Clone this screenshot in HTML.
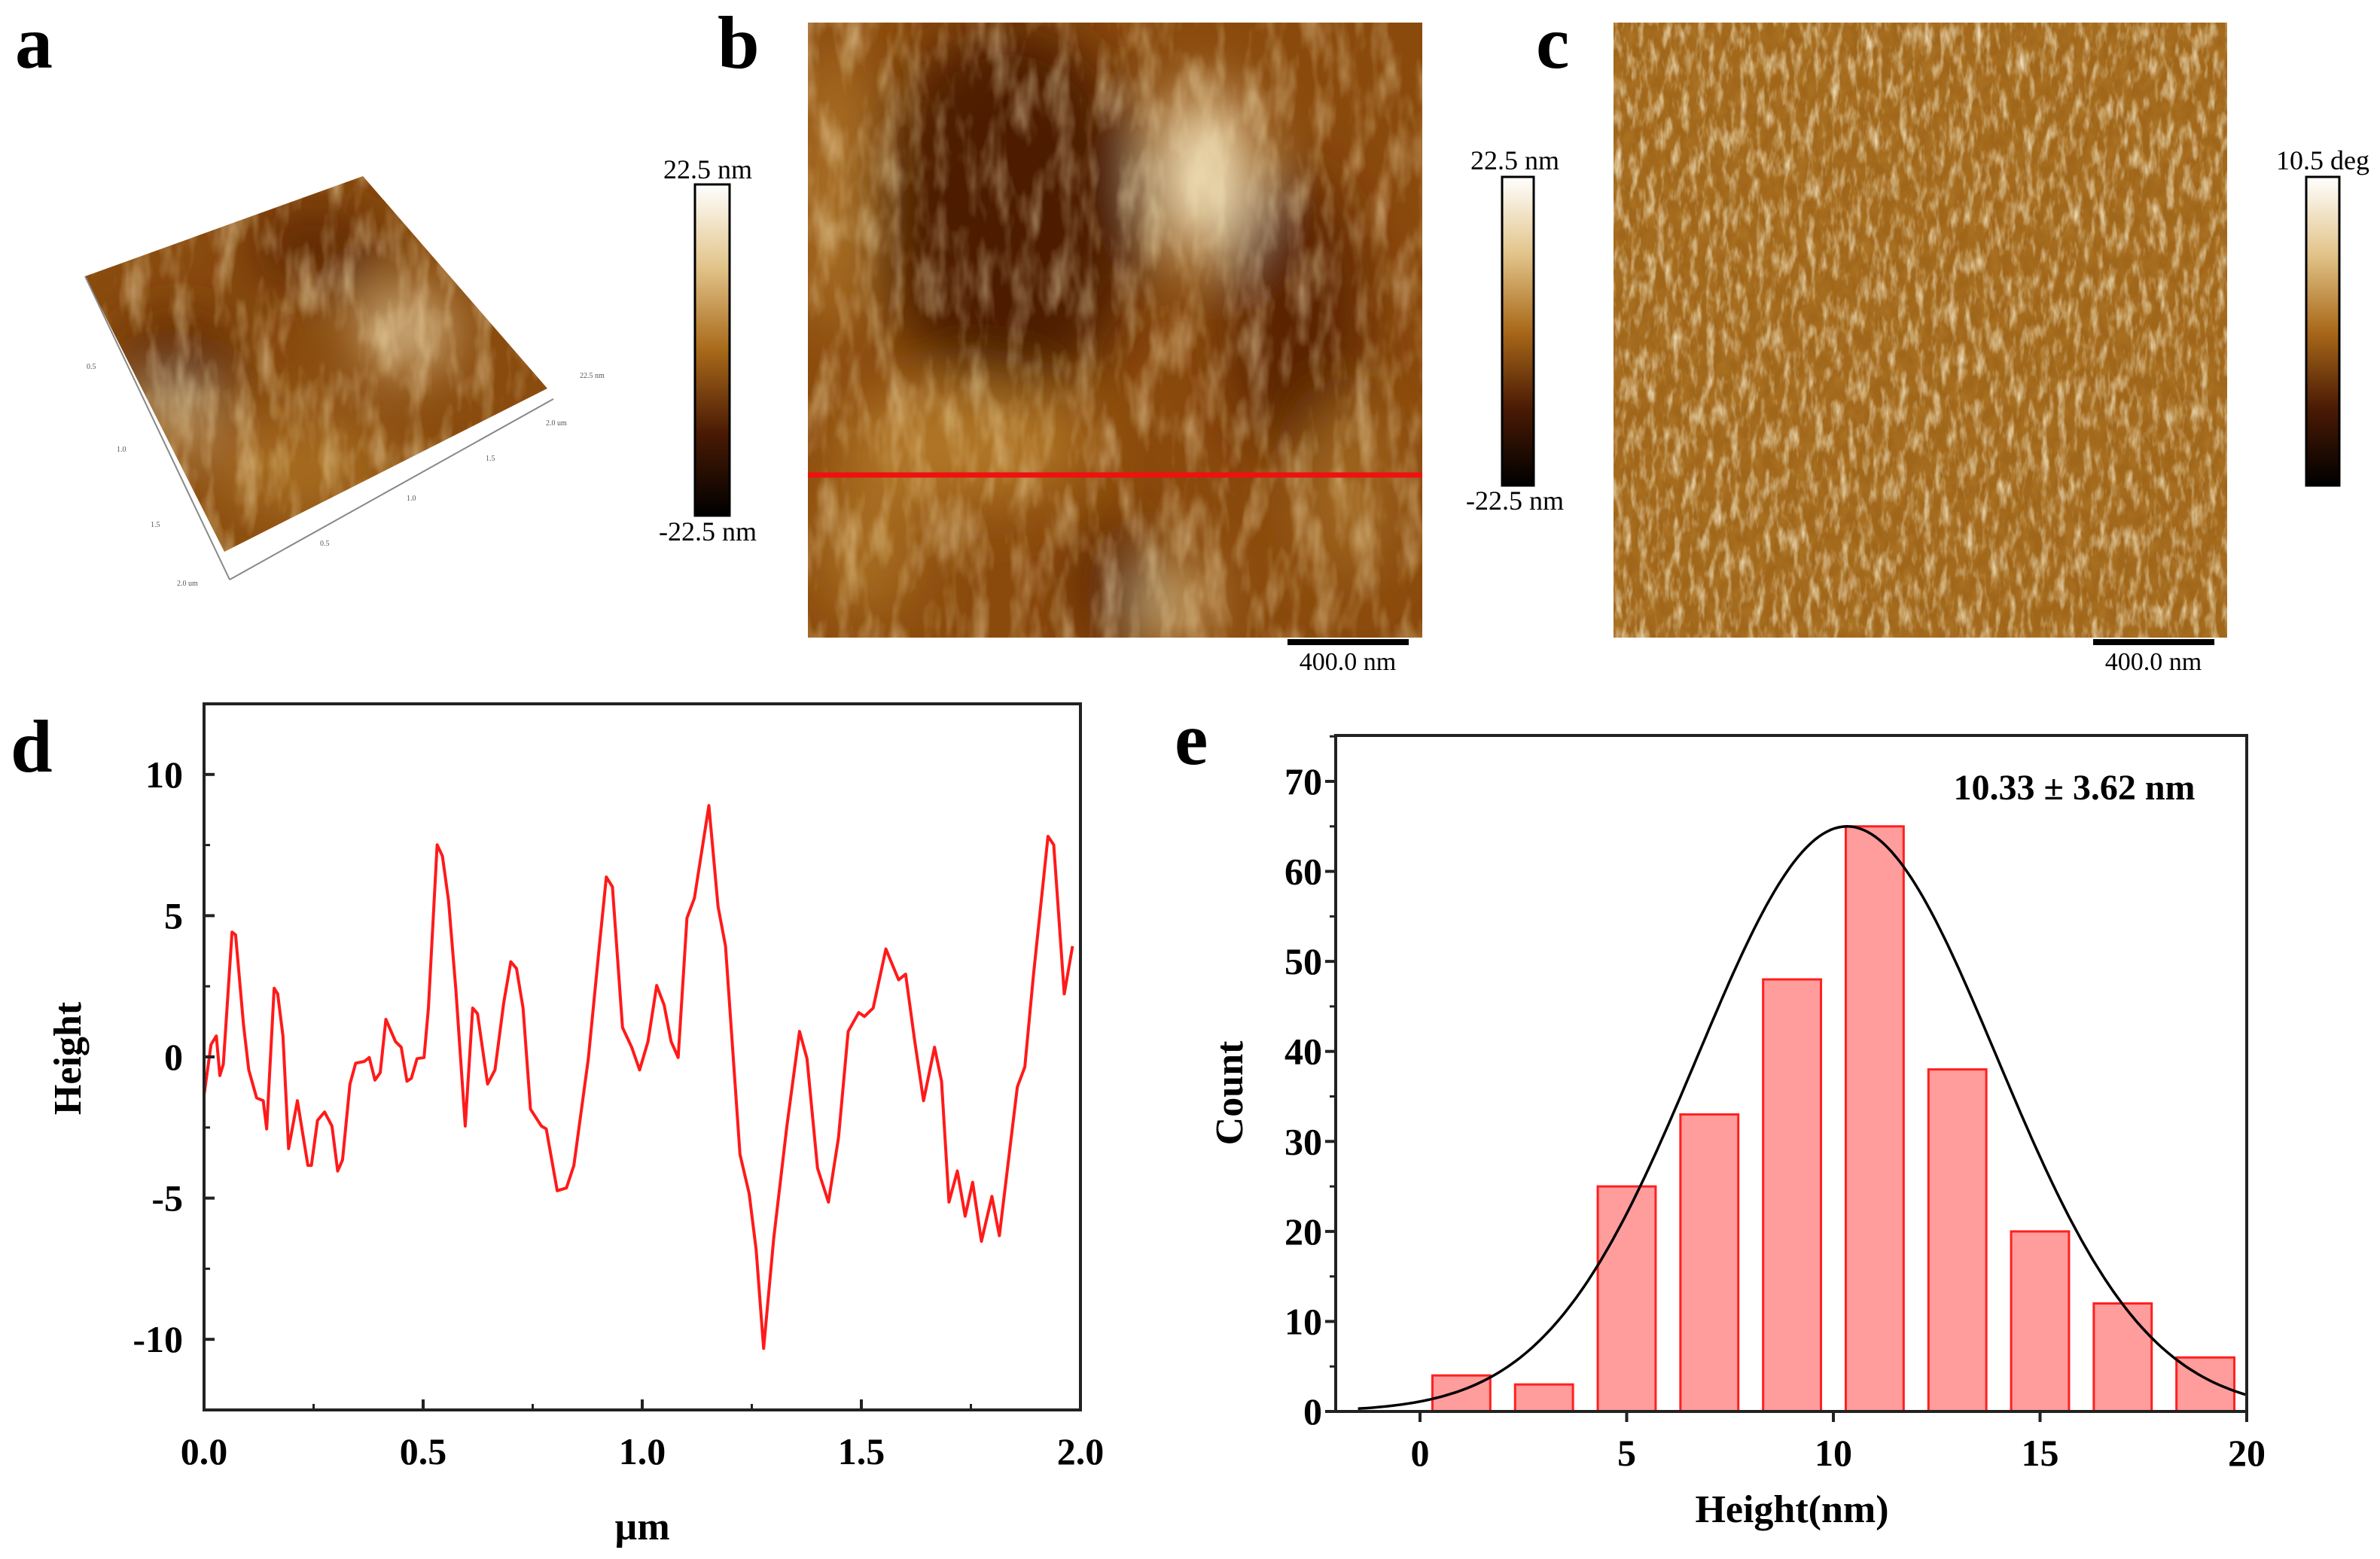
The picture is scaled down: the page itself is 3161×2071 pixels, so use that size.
<!DOCTYPE html>
<html><head><meta charset="utf-8"><style>
html,body{margin:0;padding:0;background:#fff;}
svg{display:block;font-family:"Liberation Serif",serif;}
</style></head><body>
<svg id="fig" width="3161" height="2071" viewBox="0 0 3161 2071" xmlns="http://www.w3.org/2000/svg">
<defs>
  <filter id="texB" x="0" y="0" width="100%" height="100%">
    <feTurbulence type="fractalNoise" baseFrequency="0.035 0.012" numOctaves="3" seed="4" result="n"/>
    <feColorMatrix in="n" type="matrix" values="0 0 0 0 1  0 0 0 0 0.88  0 0 0 0 0.55  1.4 0 0 0 -0.6" />
  </filter>
  <filter id="texC" x="0" y="0" width="100%" height="100%">
    <feTurbulence type="fractalNoise" baseFrequency="0.09 0.03" numOctaves="3" seed="9" result="n"/>
    <feColorMatrix in="n" type="matrix" values="0 0 0 0 1  0 0 0 0 0.93  0 0 0 0 0.7  1.8 0 0 0 -0.82" />
  </filter>
  <filter id="texCd" x="0" y="0" width="100%" height="100%">
    <feTurbulence type="fractalNoise" baseFrequency="0.07 0.05" numOctaves="2" seed="2" result="n"/>
    <feColorMatrix in="n" type="matrix" values="0 0 0 0 0.42  0 0 0 0 0.18  0 0 0 0 0.02  1.8 0 0 0 -0.6" />
  </filter>
  <filter id="blur40"><feGaussianBlur stdDeviation="40"/></filter>
  <linearGradient id="cbar" x1="0" y1="0" x2="0" y2="1">
    <stop offset="0" stop-color="#ffffff"/>
    <stop offset="0.25" stop-color="#e2c48a"/>
    <stop offset="0.5" stop-color="#a9691a"/>
    <stop offset="0.75" stop-color="#4a1a04"/>
    <stop offset="1" stop-color="#000000"/>
  </linearGradient>
  <clipPath id="clipB"><rect x="1073" y="30" width="816" height="817"/></clipPath>
  <clipPath id="clipC"><rect x="2143" y="30" width="815" height="817"/></clipPath>
  <clipPath id="clipA"><polygon points="113,367 482,234 727,516 298,733"/></clipPath>
  <clipPath id="clipD"><rect x="271" y="935" width="1164" height="938"/></clipPath>
</defs>

<text x="20" y="90" font-size="100" font-weight="bold">a</text>
<text x="953" y="90" font-size="100" font-weight="bold">b</text>
<text x="2040" y="90" font-size="100" font-weight="bold">c</text>
<text x="14" y="1025" font-size="100" font-weight="bold">d</text>
<text x="1560" y="1015" font-size="100" font-weight="bold">e</text>

<g>
  <g clip-path="url(#clipA)">
    <rect x="100" y="220" width="640" height="530" fill="#8a4c0e"/>
    <g filter="url(#blur40)">
      <ellipse cx="420" cy="330" rx="90" ry="50" fill="#5a2404"/>
      <ellipse cx="240" cy="480" rx="80" ry="60" fill="#5e2806"/>
      <ellipse cx="540" cy="440" rx="55" ry="42" fill="#f2e2b8"/>
      <ellipse cx="230" cy="555" rx="35" ry="32" fill="#efdcaa"/>
      <ellipse cx="400" cy="620" rx="120" ry="60" fill="#a86e20"/>
    </g>
    <rect x="100" y="220" width="640" height="530" filter="url(#texB)" opacity="0.75"/>
  </g>
  <g stroke="#888" stroke-width="2" fill="none">
    <line x1="113" y1="367" x2="305" y2="770"/>
    <line x1="305" y1="770" x2="735" y2="530"/>
  </g>
  <g font-size="10" fill="#555">
    <text x="115" y="490">0.5</text><text x="155" y="600">1.0</text><text x="200" y="700">1.5</text>
    <text x="235" y="778">2.0 um</text><text x="425" y="725">0.5</text><text x="540" y="665">1.0</text>
    <text x="645" y="612">1.5</text><text x="725" y="565">2.0 um</text><text x="770" y="502">22.5 nm</text>
  </g>
</g>

<g>
  <g clip-path="url(#clipB)">
    <rect x="1073" y="30" width="816" height="817" fill="#8a4a0c"/>
    <g filter="url(#blur40)">
      <ellipse cx="1340" cy="280" rx="180" ry="250" fill="#4e1c03"/>
      <ellipse cx="1720" cy="420" rx="90" ry="190" fill="#5a2204"/>
      <ellipse cx="1480" cy="780" rx="50" ry="90" fill="#5a2204"/>
      <ellipse cx="1600" cy="230" rx="60" ry="110" fill="#f4e4bc"/>
      <ellipse cx="1560" cy="800" rx="35" ry="45" fill="#ead49c"/>
      <ellipse cx="1110" cy="250" rx="35" ry="200" fill="#b88030"/>
      <ellipse cx="1280" cy="590" rx="170" ry="80" fill="#b07628"/>
      <ellipse cx="1150" cy="730" rx="70" ry="90" fill="#a86e22"/>
      <ellipse cx="1790" cy="650" rx="60" ry="120" fill="#a06820"/>
    </g>
    <rect x="1073" y="30" width="816" height="817" filter="url(#texB)" opacity="0.7"/>
  </g>
  <line x1="1073" y1="631" x2="1889" y2="631" stroke="#f01010" stroke-width="7"/>
  <rect x="1710" y="849" width="161" height="8" fill="#000"/>
  <text x="1790" y="890" font-size="34" text-anchor="middle">400.0 nm</text>
</g>
<g>
  <text x="940" y="237" font-size="36" text-anchor="middle">22.5 nm</text>
  <rect x="923" y="245" width="46" height="440" fill="url(#cbar)" stroke="#000" stroke-width="3"/>
  <text x="940" y="718" font-size="36" text-anchor="middle">-22.5 nm</text>
</g>

<g>
  <g clip-path="url(#clipC)">
    <rect x="2143" y="30" width="815" height="817" fill="#a0661a"/>
    <rect x="2143" y="30" width="815" height="817" filter="url(#texCd)" opacity="0.9"/>
    <rect x="2143" y="30" width="815" height="817" filter="url(#texC)" opacity="0.95"/>
  </g>
  <rect x="2780" y="849" width="161" height="8" fill="#000"/>
  <text x="2860" y="890" font-size="34" text-anchor="middle">400.0 nm</text>
</g>
<g>
  <text x="2012" y="225" font-size="36" text-anchor="middle">22.5 nm</text>
  <rect x="1995" y="235" width="42" height="410" fill="url(#cbar)" stroke="#000" stroke-width="3"/>
  <text x="2012" y="677" font-size="36" text-anchor="middle">-22.5 nm</text>
</g>
<g>
  <text x="3085" y="225" font-size="36" text-anchor="middle">10.5 deg</text>
  <rect x="3063" y="235" width="44" height="410" fill="url(#cbar)" stroke="#000" stroke-width="3"/>
</g>

<g id="chartD"></g>
<g id="chartE"></g>
</svg>

<script>
const profileX = [0,.016,.028,.036,.044,.064,.072,.09,.102,.12,.135,.143,.16,.168,.18,.193,.213,.237,.245,.259,.275,.292,.305,.316,.333,.346,.366,.377,.39,.402,.415,.437,.45,.463,.473,.486,.502,.512,.532,.544,.558,.575,.596,.613,.624,.647,.664,.684,.7,.713,.728,.745,.77,.781,.806,.827,.844,.877,.902,.918,.932,.955,.976,.994,1.013,1.033,1.05,1.066,1.082,1.102,1.119,1.152,1.173,1.19,1.223,1.244,1.26,1.277,1.3,1.33,1.359,1.376,1.4,1.425,1.448,1.47,1.494,1.507,1.527,1.556,1.585,1.601,1.622,1.642,1.667,1.683,1.7,1.719,1.737,1.754,1.774,1.798,1.815,1.856,1.873,1.893,1.926,1.939,1.963,1.982];
const profileY = [-1.35,.44,.74,-.66,-.26,4.42,4.32,1.14,-.46,-1.45,-1.55,-2.55,2.43,2.23,.74,-3.25,-1.55,-3.84,-3.84,-2.25,-1.95,-2.45,-4.04,-3.65,-.96,-.22,-.16,-.02,-.82,-.56,1.33,.54,.34,-.86,-.76,-.06,-.02,1.73,7.51,7.11,5.52,2.33,-2.45,1.73,1.53,-.96,-.46,1.93,3.37,3.13,1.73,-1.85,-2.45,-2.55,-4.74,-4.64,-3.84,-.06,3.92,6.37,6.02,1.04,.34,-.46,.54,2.53,1.83,.54,-.02,4.92,5.62,8.9,5.32,3.92,-3.45,-4.84,-6.83,-10.32,-6.43,-2.45,.9,-.06,-3.94,-5.14,-2.85,.9,1.57,1.43,1.73,3.82,2.73,2.93,.54,-1.55,.34,-.86,-5.14,-4.04,-5.64,-4.44,-6.53,-4.94,-6.33,-1.06,-.36,2.93,7.81,7.51,2.23,3.92];
const dXTicks = [0,0.5,1.0,1.5,2.0];
const dXTickLabels = ["0.0","0.5","1.0","1.5","2.0"];
const dYTicks = [-10,-5,0,5,10];
const dYTickLabels = ["-10","-5","0","5","10"];

const binCenters = [1,3,5,7,9,11,13,15,17,19];
const binCounts = [4,3,25,33,48,65,38,20,12,6];
const fitMean = 10.33;
const fitSigma = 3.62;
const fitPeak = 65;
const eXTicks = [0,5,10,15,20];
const eYTicks = [0,10,20,30,40,50,60,70];

const NS = "http://www.w3.org/2000/svg";
function mk(parent, tag, attrs, txt){
  const e = document.createElementNS(NS, tag);
  for (const k in attrs) e.setAttribute(k, attrs[k]);
  if (txt !== undefined) e.textContent = txt;
  parent.appendChild(e); return e;
}

(function(){
  const g = document.getElementById('chartD');
  const L=271,R=1435,T=935,B=1873, xmin=0,xmax=2,ymin=-12.5,ymax=12.5;
  const sx = v => L + (v-xmin)/(xmax-xmin)*(R-L);
  const sy = v => B - (v-ymin)/(ymax-ymin)*(B-T);
  let d = "";
  profileX.forEach((x,i)=>{ d += (i?"L":"M") + sx(x).toFixed(1) + "," + sy(profileY[i]).toFixed(1); });
  const line = mk(g,'path',{d:d,fill:'none',stroke:'#ff1a1a','stroke-width':4,'stroke-linejoin':'round','clip-path':'url(#clipD)'});
  
  
  const frame = mk(g,'rect',{x:L,y:T,width:R-L,height:B-T,fill:'none',stroke:'#222','stroke-width':4});
  
  
  dXTicks.forEach((v,i)=>{
    mk(g,'line',{x1:sx(v),y1:B,x2:sx(v),y2:B-14,stroke:'#222','stroke-width':4});
    const t = mk(g,'text',{x:sx(v),y:B+72,'font-size':50,'font-weight':'bold','text-anchor':'middle'},dXTickLabels[i]);
    
    
    if (i<dXTicks.length-1) mk(g,'line',{x1:sx(v+0.25),y1:B,x2:sx(v+0.25),y2:B-8,stroke:'#222','stroke-width':3});
  });
  dYTicks.forEach((v,i)=>{
    mk(g,'line',{x1:L,y1:sy(v),x2:L+14,y2:sy(v),stroke:'#222','stroke-width':4});
    const t = mk(g,'text',{x:L-28,y:sy(v)+17,'font-size':50,'font-weight':'bold','text-anchor':'end'},dYTickLabels[i]);
    
    
  });
  [-12.5,-7.5,-2.5,2.5,7.5,12.5].forEach(v=>mk(g,'line',{x1:L,y1:sy(v),x2:L+8,y2:sy(v),stroke:'#222','stroke-width':3}));
  const xt = mk(g,'text',{x:(L+R)/2,y:2045,'font-size':52,'font-weight':'bold','text-anchor':'middle'},'µm');
  
  
  const yt = mk(g,'text',{x:0,y:0,'font-size':52,'font-weight':'bold','text-anchor':'middle',transform:'translate(107,1406) rotate(-90)'},'Height');
  
  
})();

(function(){
  const g = document.getElementById('chartE');
  const L=1774,R=2984,T=977,B=1875, xmin=-2.04,xmax=20,ymin=0,ymax=75.1;
  const sx = v => L + (v-xmin)/(xmax-xmin)*(R-L);
  const sy = v => B - (v-ymin)/(ymax-ymin)*(B-T);
  const bw = 1.4;
  binCenters.forEach((c,i)=>{
    const b = mk(g,'rect',{x:sx(c-bw/2),y:sy(binCounts[i]),width:sx(c+bw/2)-sx(c-bw/2),height:B-sy(binCounts[i]),fill:'#ff9c9c',stroke:'#ff2020','stroke-width':3});
    
    
  });
  let d="";
  for (let k=0;k<=220;k++){
    const x = -1.5 + k*(21.5/220);
    const y = fitPeak*Math.exp(-0.5*Math.pow((x-fitMean)/fitSigma,2));
    d += (k?"L":"M")+sx(Math.min(x,20)).toFixed(1)+","+sy(y).toFixed(1);
  }
  const fit = mk(g,'path',{d:d,fill:'none',stroke:'#000','stroke-width':3.5});
  
  
  const frame = mk(g,'rect',{x:L,y:T,width:R-L,height:B-T,fill:'none',stroke:'#222','stroke-width':4});
  
  
  eXTicks.forEach((v,i)=>{
    mk(g,'line',{x1:sx(v),y1:B,x2:sx(v),y2:B+14,stroke:'#222','stroke-width':4});
    const t = mk(g,'text',{x:sx(v),y:B+72,'font-size':50,'font-weight':'bold','text-anchor':'middle'},String(v));
    
    
  });
  eYTicks.forEach((v,i)=>{
    mk(g,'line',{x1:L,y1:sy(v),x2:L-14,y2:sy(v),stroke:'#222','stroke-width':4});
    if (v+5<ymax) mk(g,'line',{x1:L,y1:sy(v+5),x2:L-8,y2:sy(v+5),stroke:'#222','stroke-width':3});
    const t = mk(g,'text',{x:L-18,y:sy(v)+17,'font-size':50,'font-weight':'bold','text-anchor':'end'},String(v));
    
    
  });
  const ann = mk(g,'text',{x:2755,y:1062,'font-size':48,'font-weight':'bold','text-anchor':'middle'},'10.33 ± 3.62 nm');
  
  
  const xt = mk(g,'text',{x:2380,y:2022,'font-size':52,'font-weight':'bold','text-anchor':'middle'},'Height(nm)');
  
  
  const yt = mk(g,'text',{x:0,y:0,'font-size':52,'font-weight':'bold','text-anchor':'middle',transform:'translate(1650,1452) rotate(-90)'},'Count');
  
  
})();
</script>
</body></html>
